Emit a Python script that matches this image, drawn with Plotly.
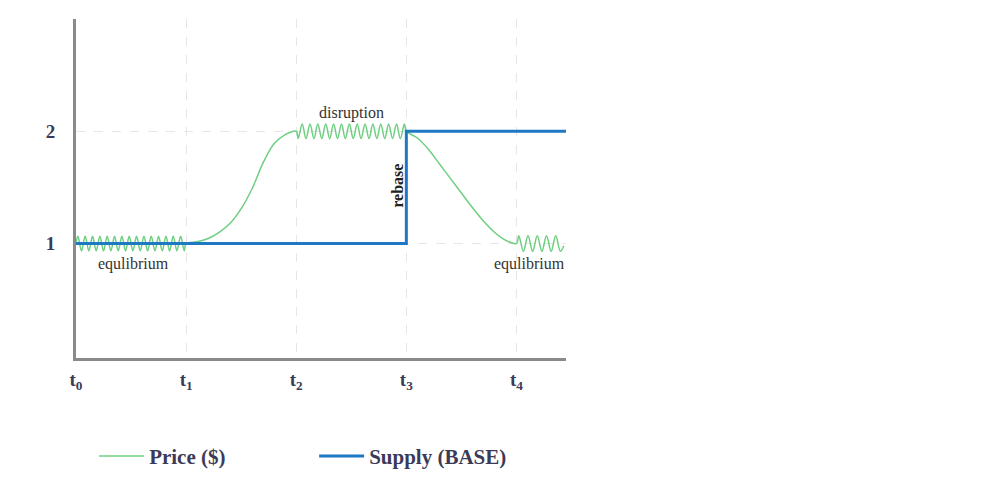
import plotly.graph_objects as go

# Price ($) path: equilibrium wiggle, rise, disruption wiggle, fall, equilibrium wiggle
price_x = [
    0.0, 0.017, 0.05, 0.083, 0.117, 0.15, 0.183, 0.217, 0.25, 0.283, 0.317, 0.35, 0.383,
    0.417, 0.45, 0.483, 0.517, 0.55, 0.583, 0.617, 0.65, 0.683, 0.717, 0.75, 0.783,
    0.817, 0.85, 0.883, 0.917, 0.95, 0.983, 1.0,
    1.1, 1.2, 1.3, 1.4, 1.5, 1.6, 1.7, 1.8, 1.9, 2.0,
    2.018, 2.054, 2.089, 2.125, 2.161, 2.196, 2.232, 2.268, 2.304, 2.339, 2.375, 2.411,
    2.446, 2.482, 2.518, 2.554, 2.589, 2.625, 2.661, 2.696, 2.732, 2.768, 2.804, 2.839,
    2.875, 2.911, 2.946, 2.982, 3.0,
    3.1, 3.2, 3.3, 3.4, 3.5, 3.6, 3.7, 3.8, 3.9, 4.0,
    4.021, 4.063, 4.105, 4.147, 4.189, 4.231, 4.273, 4.315, 4.357, 4.399, 4.43,
]
price_y = [
    1.0, 1.065, 0.935, 1.065, 0.935, 1.065, 0.935, 1.065, 0.935, 1.065, 0.935, 1.065, 0.935,
    1.065, 0.935, 1.065, 0.935, 1.065, 0.935, 1.065, 0.935, 1.065, 0.935, 1.065, 0.935,
    1.065, 0.935, 1.065, 0.935, 1.065, 0.935, 1.0,
    1.015, 1.045, 1.1, 1.18, 1.31, 1.49, 1.72, 1.89, 1.97, 2.0,
    1.935, 2.065, 1.935, 2.065, 1.935, 2.065, 1.935, 2.065, 1.935, 2.065, 1.935, 2.065,
    1.935, 2.065, 1.935, 2.065, 1.935, 2.065, 1.935, 2.065, 1.935, 2.065, 1.935, 2.065,
    1.935, 2.065, 1.935, 2.065, 2.0,
    1.94, 1.84, 1.71, 1.58, 1.45, 1.32, 1.2, 1.1, 1.03, 1.0,
    1.07, 0.93, 1.07, 0.93, 1.07, 0.93, 1.07, 0.93, 1.07, 0.93, 0.98,
]

# Supply (BASE): flat at 1, rebase at t3 to 2
supply_x = [0.0, 3.0, 3.0, 4.45]
supply_y = [1.0, 1.0, 2.0, 2.0]

x_tickvals = [0, 1, 2, 3, 4]
x_ticktext = ["t<sub>0</sub>", "t<sub>1</sub>", "t<sub>2</sub>", "t<sub>3</sub>", "t<sub>4</sub>"]
y_tickvals = [1, 2]
y_ticktext = ["1", "2"]

labels = [
    ("equlibrium", 0.52, 0.82),
    ("disruption", 2.5, 2.16),
    ("equlibrium", 4.12, 0.82),
]

SERIF = "Liberation Serif"
INK = "#3b3b58"

fig = go.Figure()
fig.add_trace(go.Scatter(
    x=price_x, y=price_y, mode="lines", name="Price ($)",
    line=dict(color="#6fcf80", width=1.5, shape="spline", smoothing=1),
))
fig.add_trace(go.Scatter(
    x=supply_x, y=supply_y, mode="lines", name="Supply (BASE)",
    line=dict(color="#1f78c4", width=3),
))

for text, x, y in labels:
    fig.add_annotation(x=x, y=y, text=text, showarrow=False,
                       font=dict(family=SERIF, size=16, color="#333333"))
fig.add_annotation(x=2.92, y=1.51, text="<b>rebase</b>", showarrow=False, textangle=-90,
                   font=dict(family=SERIF, size=16, color="#222222"))

fig.update_layout(
    width=989, height=495,
    margin=dict(l=68, r=431, t=11, b=145),
    paper_bgcolor="white", plot_bgcolor="white",
    showlegend=True,
    legend=dict(orientation="h", x=0.037, y=-0.29, xanchor="left", yanchor="middle",
                itemwidth=45, entrywidth=160, entrywidthmode="pixels",
                font=dict(family=SERIF, size=21, color=INK, weight="bold")),
    xaxis=dict(range=[0, 4.45], tickvals=x_tickvals, ticktext=x_ticktext,
               showline=True, linecolor="#8a8a8a", linewidth=3,
               showgrid=True, gridcolor="#e6e6e6", griddash="dash", gridwidth=1,
               zeroline=False, ticks="outside", ticklen=2, tickcolor="rgba(0,0,0,0)",
               tickfont=dict(family=SERIF, size=19, color=INK, weight="bold")),
    yaxis=dict(range=[-0.02, 3.0], tickvals=y_tickvals, ticktext=y_ticktext,
               showline=True, linecolor="#8a8a8a", linewidth=3,
               showgrid=True, gridcolor="#e6e6e6", griddash="dash", gridwidth=1,
               zeroline=False, ticks="outside", ticklen=14, tickcolor="rgba(0,0,0,0)",
               tickfont=dict(family=SERIF, size=19, color=INK, weight="bold")),
)

fig.write_html("out.html")
